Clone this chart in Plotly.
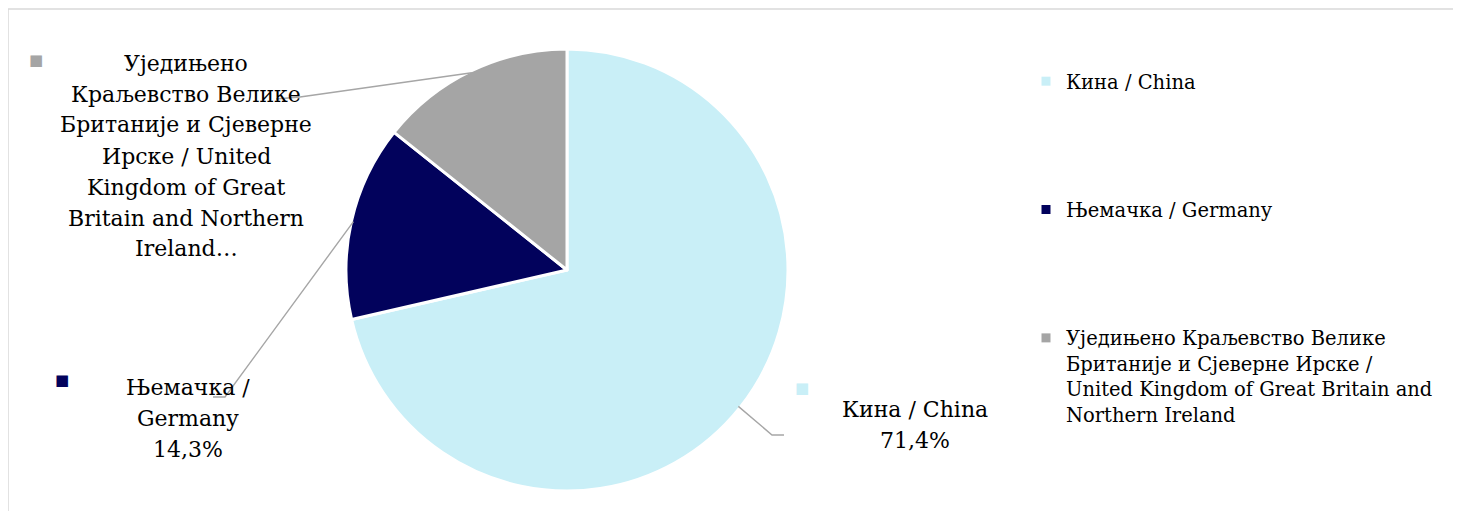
import math
import plotly.graph_objects as go

# ---------------- data ----------------
categories = [
    "Кина / China",
    "Њемачка / Germany",
    "Уједињено Краљевство Велике Британије и Сјеверне Ирске / United Kingdom of Great Britain and Northern Ireland",
]
legend_labels = [
    "Кина / China",
    "Њемачка / Germany",
    "Уједињено Краљевство Велике<br>Британије и Сјеверне Ирске /<br>United Kingdom of Great Britain and<br>Northern Ireland",
]
values = [71.4, 14.3, 14.3]
colors = ["#C9EFF7", "#02025C", "#A5A5A5"]
# data label text lines (wrapped as in the reference); percent appended where shown
label_name_lines = [
    ["Кина / China"],
    ["Њемачка /", "Germany"],
    ["Уједињено", "Краљевство Велике", "Британије и Сјеверне", "Ирске / United",
     "Kingdom of Great", "Britain and Northern", "Ireland…"],
]
show_percent = [True, True, False]

# ---------------- layout constants ----------------
W, H = 1461, 511
OFF = 8                              # page body margin of the browser
FONT = "DejaVu Serif"
CX, CY, R = 567, 270, 219          # pie centre / radius in px (screen)
R_DOM = R + 2                      # plotly draws the pie slightly inside its domain
LABEL_FS = 22
LINE_SP = 31
label_pos = [(915, 409), (188, 387), (186, 63)]      # first line centre (px)
key_pos = [(802, 388), (62, 380), (36, 60)]          # small legend keys beside labels
leader_elbow = [[(772, 435), (784, 435)], [(225, 397), (213, 397)], [(300, 97), (276, 99)]]


def px(x, y):
    return (x - OFF) / W, 1 - (y - OFF) / H


fig = go.Figure()

dx0, dy0 = px(CX - R_DOM, CY + R_DOM)
dx1, dy1 = px(CX + R_DOM, CY - R_DOM)
fig.add_trace(go.Pie(
    labels=categories, values=values, sort=False, direction="clockwise", rotation=0,
    marker=dict(colors=colors, line=dict(color="white", width=3)),
    textinfo="none", hoverinfo="label+percent", showlegend=False,
    domain=dict(x=[dx0, dx1], y=[dy0, dy1]),
))

# legend entries (one per category, separate groups so they can be spaced apart)
for name, col in zip(legend_labels, colors):
    fig.add_trace(go.Scatter(
        x=[None], y=[None], mode="markers", name=name, legendgroup=name,
        marker=dict(symbol="square", size=9, color=col), hoverinfo="skip",
    ))

annotations = []
shapes = []
total = sum(values)
cum = 0.0
for i, v in enumerate(values):
    mid = (cum + v / 2) / total * 2 * math.pi
    cum += v
    ex = CX + R * math.sin(mid)
    ey = CY - R * math.cos(mid)
    pts = [(ex, ey)] + leader_elbow[i]
    path = "M " + " L ".join(f"{px(a, b)[0]:.5f},{px(a, b)[1]:.5f}" for a, b in pts)
    shapes.append(dict(type="path", xref="paper", yref="paper", path=path,
                       line=dict(color="#A6A6A6", width=1.4), layer="above"))
    lines = list(label_name_lines[i])
    if show_percent[i]:
        lines.append(f"{v:.1f}".replace(".", ",") + "%")
    lx, ly = label_pos[i]
    for j, t in enumerate(lines):
        ax, ay = px(lx, ly + j * LINE_SP)
        annotations.append(dict(x=ax, y=ay, xref="paper", yref="paper", text=t,
                                showarrow=False, xanchor="center", yanchor="middle",
                                font=dict(family=FONT, size=LABEL_FS, color="#000000")))
    kx, ky = px(*key_pos[i])
    annotations.append(dict(x=kx, y=ky, xref="paper", yref="paper", text="■",
                            showarrow=False, xanchor="center", yanchor="middle",
                            font=dict(family="DejaVu Sans", size=15, color=colors[i])))

# chart-area border
x0, y0 = px(8, 9)
x1, y1 = px(1454, 530)
shapes.append(dict(type="rect", xref="paper", yref="paper", x0=x0, y0=y1, x1=x1, y1=y0,
                   line=dict(color="#D9D9D9", width=1.5), layer="below"))

lgx, lgy = px(1026, 62)
fig.update_layout(
    width=W, height=H, autosize=False,
    margin=dict(l=0, r=0, t=0, b=0, autoexpand=False),
    paper_bgcolor="white", plot_bgcolor="white",
    xaxis=dict(visible=False), yaxis=dict(visible=False),
    shapes=shapes, annotations=annotations,
    legend=dict(x=lgx, y=lgy, xanchor="left", yanchor="top", valign="top",
                font=dict(family=FONT, size=19.5, color="#000000"),
                tracegroupgap=100, itemwidth=30, bgcolor="rgba(0,0,0,0)"),
    showlegend=True,
)

fig.write_html("out.html")
